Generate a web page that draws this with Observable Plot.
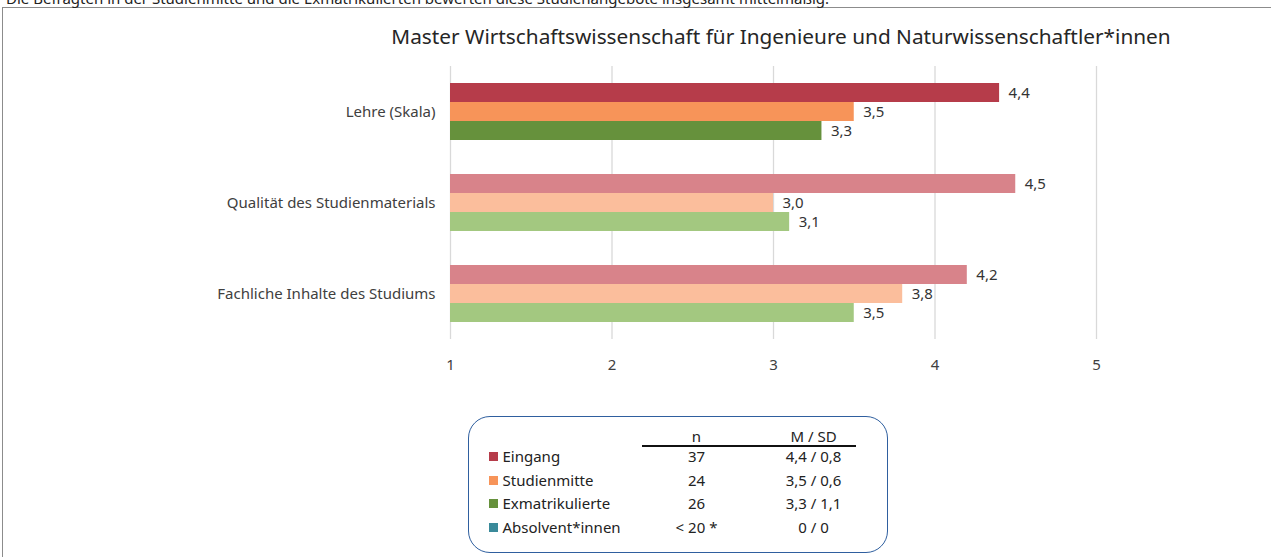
<!DOCTYPE html>
<html>
<head>
<meta charset="utf-8">
<script src="https://cdn.jsdelivr.net/npm/d3@7"></script>
<script src="https://cdn.jsdelivr.net/npm/@observablehq/plot@0.6"></script>
<style>
  html, body { margin: 0; padding: 0; background: #fff; overflow: hidden; }
  body { width: 1271px; height: 557px; position: relative; font-family: "Noto Sans", "Open Sans", sans-serif; color: #262626; }
  .abs { position: absolute; white-space: nowrap; }
  #frame { position: absolute; left: 2px; top: 7px; width: 1300px; height: 600px; border: 1.5px solid #8c8c8c; box-sizing: border-box; }
  #intro { left: 6px; top: -12px; font-size: 15px; color: #222; }
  #title { left: 0; width: 1562px; text-align: center; top: 22px; font-size: 20.8px; color: #262626; }
  #chart { position: absolute; left: 0; top: 50px; }
  #legend { position: absolute; left: 468px; top: 416px; width: 420px; height: 137px; border: 1.5px solid #2f5f9f; border-radius: 22px; box-sizing: border-box; }
  .lg { position: absolute; font-size: 15px; color: #222; white-space: nowrap; line-height: 16px; }
  .sw { position: absolute; width: 9px; height: 9px; }
</style>
</head>
<body>
<div id="frame"></div>
<div id="intro" class="abs"></div>
<div id="title" class="abs"></div>
<div id="chart"></div>
<div id="legend"></div>
<script>
// ---- data ----
const introText = "Die Befragten in der Studienmitte und die Exmatrikulierten bewerten diese Studienangebote insgesamt mittelmäßig.";
const titleText = "Master Wirtschaftswissenschaft für Ingenieure und Naturwissenschaftler*innen";
const categories = ["Lehre (Skala)", "Qualität des Studienmaterials", "Fachliche Inhalte des Studiums"];
const series = ["Eingang", "Studienmitte", "Exmatrikulierte"];
const eingang = [4.4, 4.5, 4.2];
const studienmitte = [3.5, 3.0, 3.8];
const exmatrikulierte = [3.3, 3.1, 3.5];
const xTicks = [1, 2, 3, 4, 5];
const baseline = 1;

const legendSeries = ["Eingang", "Studienmitte", "Exmatrikulierte", "Absolvent*innen"];
const legendN = ["37", "24", "26", "< 20 *"];
const legendMSD = ["4,4 / 0,8", "3,5 / 0,6", "3,3 / 1,1", "0 / 0"];

// ---- styles ----
const strongColors = ["#b63c4a", "#f79459", "#66913c", "#3a8a9a"];
const lightColors = ["#d8838a", "#fbbe9c", "#a3c880"];

document.getElementById("intro").textContent = introText;
document.getElementById("title").textContent = titleText;

const seriesValues = [eingang, studienmitte, exmatrikulierte];
const rows = [];
categories.forEach((c, ci) => {
  series.forEach((s, si) => {
    rows.push({category: c, series: s, value: seriesValues[si][ci], ci, si});
  });
});
const fmt = v => v.toFixed(1).replace(".", ",");
const fillOf = d => d.ci === 0 ? strongColors[d.si] : lightColors[d.si];

const chart = Plot.plot({
  width: 1271,
  height: 330,
  marginLeft: 450,
  marginRight: 175,
  marginTop: 15,
  marginBottom: 40,
  style: {fontFamily: "'Noto Sans', 'Open Sans', sans-serif", fontSize: "15px", color: "#404040", background: "transparent"},
  x: {domain: [1, 5], ticks: xTicks, tickSize: 0, tickPadding: 20, label: null, tickFormat: d => String(d)},
  y: {domain: series, paddingInner: 0, paddingOuter: 0.867, axis: null},
  fy: {domain: categories, padding: 0, label: null, axis: "left", tickSize: 0, tickPadding: 15},
  facet: {data: rows, y: "category"},
  marks: [
    Plot.gridX(xTicks, {stroke: "#d9d9d9", strokeOpacity: 1, strokeWidth: 1.3}),
    Plot.barX(rows, {x1: () => baseline, x2: "value", y: "series", fill: fillOf}),
    Plot.text(rows, {x: "value", y: "series", text: d => fmt(d.value), textAnchor: "start", dx: 9, fill: "#333", fontSize: 15})
  ]
});
document.getElementById("chart").appendChild(chart);

// ---- legend table ----
const lg = document.getElementById("legend");
const ox = 468, oy = 416;
function addText(txt, x, y, anchor) {
  const el = document.createElement("div");
  el.className = "lg";
  el.textContent = txt;
  el.style.top = (y - oy - 8 - 1.5) + "px";
  if (anchor === "middle") {
    el.style.left = (x - ox - 100 - 1.5) + "px";
    el.style.width = "200px";
    el.style.textAlign = "center";
  } else {
    el.style.left = (x - ox - 1.5) + "px";
  }
  lg.appendChild(el);
}
addText("n", 697, 436, "middle");
addText("M / SD", 814, 436, "middle");
const line = document.createElement("div");
line.style.cssText = `position:absolute;left:${642 - ox - 1.5}px;top:${445 - oy - 1.5}px;width:214px;height:2px;background:#111;`;
lg.appendChild(line);
const rowY = [456, 480, 503, 527];
legendSeries.forEach((s, i) => {
  const sw = document.createElement("div");
  sw.className = "sw";
  sw.style.background = strongColors[i];
  sw.style.left = (489 - ox - 1.5) + "px";
  sw.style.top = (rowY[i] - 4 - oy - 1.5) + "px";
  lg.appendChild(sw);
  addText(s, 503, rowY[i], "start");
  addText(legendN[i], 697, rowY[i], "middle");
  addText(legendMSD[i], 814, rowY[i], "middle");
});
</script>
</body>
</html>
